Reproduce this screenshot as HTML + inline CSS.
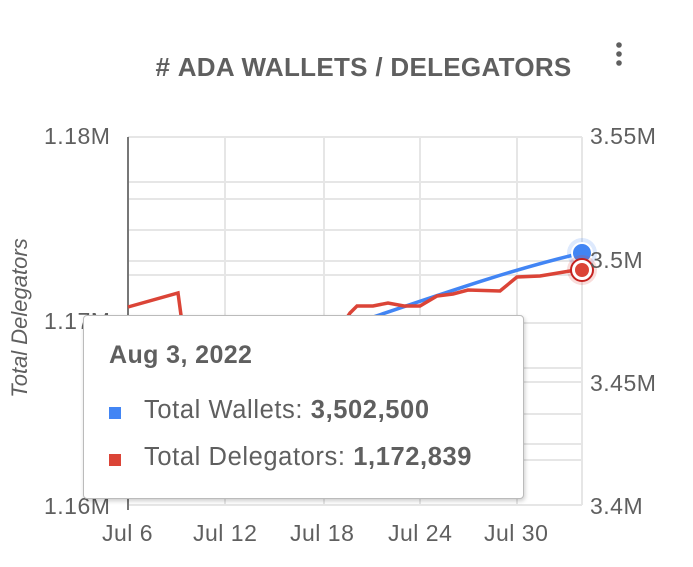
<!DOCTYPE html>
<html><head><style>
html,body{margin:0;padding:0;background:#fff;}
body{width:693px;height:567px;position:relative;overflow:hidden;font-family:"Liberation Sans",Roboto,sans-serif;color:#5f5f5f;}
.t{position:absolute;white-space:nowrap;}
.ax{font-size:23px;letter-spacing:0.5px;}
</style></head><body>
<svg width="693" height="567" style="position:absolute;left:0;top:0">
<g stroke="#e6e6e6" stroke-width="2" fill="none">
<line x1="128" y1="137" x2="582" y2="137"/><line x1="128" y1="182" x2="582" y2="182"/>
<line x1="128" y1="199" x2="582" y2="199"/><line x1="128" y1="230" x2="582" y2="230"/>
<line x1="128" y1="261" x2="582" y2="261"/><line x1="128" y1="275" x2="582" y2="275"/>
<line x1="128" y1="323" x2="582" y2="323"/><line x1="128" y1="368" x2="582" y2="368"/>
<line x1="128" y1="382" x2="582" y2="382"/><line x1="128" y1="414" x2="582" y2="414"/>
<line x1="128" y1="444" x2="582" y2="444"/><line x1="128" y1="460" x2="582" y2="460"/>
<line x1="128" y1="505" x2="582" y2="505"/>
<line x1="225" y1="137" x2="225" y2="505"/><line x1="324" y1="137" x2="324" y2="505"/>
<line x1="420" y1="137" x2="420" y2="505"/><line x1="517" y1="137" x2="517" y2="505"/>
<line x1="582" y1="137" x2="582" y2="505"/>
</g>
<line x1="128" y1="137" x2="128" y2="510" stroke="#777" stroke-width="2"/>
<polyline points="128,307 178,293 183,330" fill="none" stroke="#db4437" stroke-width="3.5"/>
<path d="M340,328 C420,302 500,272 582,253" fill="none" stroke="#4285f4" stroke-width="3.5"/>
<polyline points="340,328 350,313 357,306 373,306 388,303 404,306 420,306 437,296 453,294 468,290 500,291 517,277 540,276 570,271 582,269" fill="none" stroke="#db4437" stroke-width="3.5"/>
<circle cx="582" cy="253" r="15" fill="#4285f4" opacity="0.18"/>
<circle cx="582" cy="253" r="10" fill="#4285f4" stroke="#fff" stroke-width="2"/>
<circle cx="582" cy="270" r="15" fill="#db4437" opacity="0.18"/>
<circle cx="582" cy="270" r="11" fill="#fff" stroke="#c5221f" stroke-width="2"/>
<circle cx="582" cy="270" r="7" fill="#db4437"/>
<circle cx="619" cy="45" r="2.8" fill="#5f5f5f"/><circle cx="619" cy="54" r="2.8" fill="#5f5f5f"/><circle cx="619" cy="63" r="2.8" fill="#5f5f5f"/>
</svg>
<div class="t" style="left:0;width:727px;text-align:center;top:52px;font-size:26px;font-weight:bold;color:#5f5f5f;letter-spacing:0.3px">#&nbsp;ADA WALLETS / DELEGATORS</div>
<div class="t ax" style="left:44px;top:123px;">1.18M</div>
<div class="t ax" style="left:44px;top:308px;">1.17M</div>
<div class="t ax" style="left:44px;top:493px;">1.16M</div>
<div class="t ax" style="left:590px;top:123px;">3.55M</div>
<div class="t ax" style="left:590px;top:247px;">3.5M</div>
<div class="t ax" style="left:590px;top:370px;">3.45M</div>
<div class="t ax" style="left:590px;top:493px;">3.4M</div>
<div class="t ax" style="left:102px;top:520px;">Jul 6</div>
<div class="t ax" style="left:193px;top:520px;">Jul 12</div>
<div class="t ax" style="left:290px;top:520px;">Jul 18</div>
<div class="t ax" style="left:388px;top:520px;">Jul 24</div>
<div class="t ax" style="left:484px;top:520px;">Jul 30</div>
<div class="t" style="left:20px;top:318px;font-size:22px;font-style:italic;transform:translate(-50%,-50%) rotate(-90deg);">Total Delegators</div>
<div class="t" style="left:706px;top:340px;font-size:22px;font-style:italic;transform:translate(-50%,-50%) rotate(90deg);">ADA Staked (B)</div>
<div style="position:absolute;left:83px;top:315px;width:439px;height:182px;background:#fff;border:1.5px solid #bbb;border-radius:4px;box-shadow:1px 2px 4px rgba(0,0,0,0.2);">
<div class="t" style="left:25px;top:25px;font-size:25px;font-weight:bold;letter-spacing:0.4px">Aug 3, 2022</div>
<div style="position:absolute;left:25px;top:91px;width:12px;height:12px;background:#4285f4"></div>
<div class="t" style="left:60px;top:80px;font-size:25.5px;letter-spacing:0.6px">Total Wallets: <b>3,502,500</b></div>
<div style="position:absolute;left:25px;top:138px;width:12px;height:12px;background:#db4437"></div>
<div class="t" style="left:60px;top:127px;font-size:25.5px;letter-spacing:0.6px">Total Delegators: <b>1,172,839</b></div>
</div>
</body></html>
